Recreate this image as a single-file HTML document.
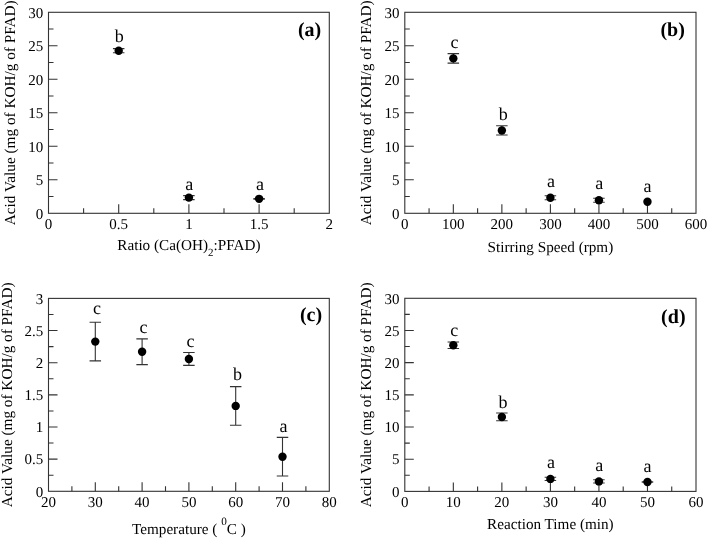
<!DOCTYPE html>
<html><head><meta charset="utf-8"><style>
html,body{margin:0;padding:0;background:#fff;}
body{width:708px;height:539px;overflow:hidden;}
svg{display:block;font-family:"Liberation Serif", serif;text-rendering:geometricPrecision;will-change:transform;}
</style></head><body>
<svg width="708" height="539" viewBox="0 0 708 539" fill="#000">
<rect x="48.5" y="12.3" width="280.8" height="201" fill="none" stroke="#333" stroke-width="1.1"/>
<path d="M83.6 213.3V208.3M118.7 213.3V204.3M153.8 213.3V208.3M188.9 213.3V204.3M224 213.3V208.3M259.1 213.3V204.3M294.2 213.3V208.3M48.5 196.55H53.5M48.5 179.8H57.5M48.5 163.05H53.5M48.5 146.3H57.5M48.5 129.55H53.5M48.5 112.8H57.5M48.5 96.05H53.5M48.5 79.3H57.5M48.5 62.55H53.5M48.5 45.8H57.5M48.5 29.05H53.5" stroke="#333" stroke-width="1.1" fill="none"/>
<text x="48.5" y="228.9" text-anchor="middle" font-size="15">0</text>
<text x="118.7" y="228.9" text-anchor="middle" font-size="15">0.5</text>
<text x="188.9" y="228.9" text-anchor="middle" font-size="15">1</text>
<text x="259.1" y="228.9" text-anchor="middle" font-size="15">1.5</text>
<text x="329.3" y="228.9" text-anchor="middle" font-size="15">2</text>
<text x="43.3" y="218.5" text-anchor="end" font-size="15">0</text>
<text x="43.3" y="185" text-anchor="end" font-size="15">5</text>
<text x="43.3" y="151.5" text-anchor="end" font-size="15">10</text>
<text x="43.3" y="118" text-anchor="end" font-size="15">15</text>
<text x="43.3" y="84.5" text-anchor="end" font-size="15">20</text>
<text x="43.3" y="51" text-anchor="end" font-size="15">25</text>
<text x="43.3" y="17.5" text-anchor="end" font-size="15">30</text>
<path d="M118.7 48.61V52.77M112.95 48.61H124.45M112.95 52.77H124.45" stroke="#333" stroke-width="1.1" fill="none"/>
<circle cx="118.7" cy="50.69" r="4.2" fill="#000"/>
<text x="119.3" y="41.8" text-anchor="middle" font-size="18">b</text>
<path d="M188.9 195.61V199.63M183.15 195.61H194.65M183.15 199.63H194.65" stroke="#333" stroke-width="1.1" fill="none"/>
<circle cx="188.9" cy="197.62" r="4.2" fill="#000"/>
<text x="189.2" y="189.5" text-anchor="middle" font-size="18">a</text>
<path d="M259.1 198.49V199.16M253.35 198.49H264.85M253.35 199.16H264.85" stroke="#333" stroke-width="1.1" fill="none"/>
<circle cx="259.1" cy="198.83" r="4.2" fill="#000"/>
<text x="260" y="189.5" text-anchor="middle" font-size="18">a</text>
<text x="297.9" y="35.5" font-size="20" font-weight="bold">(a)</text>
<text x="188.9" y="250.3" text-anchor="middle" font-size="15.2">Ratio (Ca(OH)<tspan font-size="11" dy="6">2</tspan><tspan dy="-6">:PFAD)</tspan></text>
<text transform="translate(14.9 112.8) rotate(-90)" x="0" y="0" text-anchor="middle" font-size="15.25">Acid Value (mg of KOH/g of PFAD)</text>
<rect x="404.8" y="12.3" width="291.2" height="201" fill="none" stroke="#333" stroke-width="1.1"/>
<path d="M429.07 213.3V208.3M453.33 213.3V204.3M477.6 213.3V208.3M501.87 213.3V204.3M526.13 213.3V208.3M550.4 213.3V204.3M574.67 213.3V208.3M598.93 213.3V204.3M623.2 213.3V208.3M647.47 213.3V204.3M671.73 213.3V208.3M404.8 196.55H409.8M404.8 179.8H413.8M404.8 163.05H409.8M404.8 146.3H413.8M404.8 129.55H409.8M404.8 112.8H413.8M404.8 96.05H409.8M404.8 79.3H413.8M404.8 62.55H409.8M404.8 45.8H413.8M404.8 29.05H409.8" stroke="#333" stroke-width="1.1" fill="none"/>
<text x="404.8" y="228.9" text-anchor="middle" font-size="15">0</text>
<text x="453.33" y="228.9" text-anchor="middle" font-size="15">100</text>
<text x="501.87" y="228.9" text-anchor="middle" font-size="15">200</text>
<text x="550.4" y="228.9" text-anchor="middle" font-size="15">300</text>
<text x="598.93" y="228.9" text-anchor="middle" font-size="15">400</text>
<text x="647.47" y="228.9" text-anchor="middle" font-size="15">500</text>
<text x="696" y="228.9" text-anchor="middle" font-size="15">600</text>
<text x="399.6" y="218.5" text-anchor="end" font-size="15">0</text>
<text x="399.6" y="185" text-anchor="end" font-size="15">5</text>
<text x="399.6" y="151.5" text-anchor="end" font-size="15">10</text>
<text x="399.6" y="118" text-anchor="end" font-size="15">15</text>
<text x="399.6" y="84.5" text-anchor="end" font-size="15">20</text>
<text x="399.6" y="51" text-anchor="end" font-size="15">25</text>
<text x="399.6" y="17.5" text-anchor="end" font-size="15">30</text>
<path d="M453.33 53.64V63.15M447.58 53.64H459.08M447.58 63.15H459.08" stroke="#333" stroke-width="1.1" fill="none"/>
<circle cx="453.33" cy="58.4" r="4.2" fill="#000"/>
<text x="454.5" y="47.9" text-anchor="middle" font-size="18">c</text>
<path d="M501.87 125.8V135.04M496.12 125.8H507.62M496.12 135.04H507.62" stroke="#333" stroke-width="1.1" fill="none"/>
<circle cx="501.87" cy="130.42" r="4.2" fill="#000"/>
<text x="503.3" y="119.5" text-anchor="middle" font-size="18">b</text>
<path d="M550.4 195.68V199.7M544.65 195.68H556.15M544.65 199.7H556.15" stroke="#333" stroke-width="1.1" fill="none"/>
<circle cx="550.4" cy="197.69" r="4.2" fill="#000"/>
<text x="550.9" y="187.3" text-anchor="middle" font-size="18">a</text>
<path d="M598.93 198.29V202.31M593.18 198.29H604.68M593.18 202.31H604.68" stroke="#333" stroke-width="1.1" fill="none"/>
<circle cx="598.93" cy="200.3" r="4.2" fill="#000"/>
<text x="599.2" y="189" text-anchor="middle" font-size="18">a</text>
<circle cx="647.47" cy="201.78" r="4.2" fill="#000"/>
<text x="647.5" y="191.7" text-anchor="middle" font-size="18">a</text>
<text x="660.4" y="35.5" font-size="20" font-weight="bold">(b)</text>
<text x="550.4" y="252.3" text-anchor="middle" font-size="15.2">Stirring Speed (rpm)</text>
<text transform="translate(370.8 112.8) rotate(-90)" x="0" y="0" text-anchor="middle" font-size="15.25">Acid Value (mg of KOH/g of PFAD)</text>
<rect x="48.5" y="298.4" width="280.8" height="192.9" fill="none" stroke="#333" stroke-width="1.1"/>
<path d="M71.9 491.3V486.3M95.3 491.3V482.3M118.7 491.3V486.3M142.1 491.3V482.3M165.5 491.3V486.3M188.9 491.3V482.3M212.3 491.3V486.3M235.7 491.3V482.3M259.1 491.3V486.3M282.5 491.3V482.3M305.9 491.3V486.3M48.5 475.23H53.5M48.5 459.15H57.5M48.5 443.07H53.5M48.5 427H57.5M48.5 410.93H53.5M48.5 394.85H57.5M48.5 378.77H53.5M48.5 362.7H57.5M48.5 346.62H53.5M48.5 330.55H57.5M48.5 314.48H53.5" stroke="#333" stroke-width="1.1" fill="none"/>
<text x="48.5" y="506.9" text-anchor="middle" font-size="15">20</text>
<text x="95.3" y="506.9" text-anchor="middle" font-size="15">30</text>
<text x="142.1" y="506.9" text-anchor="middle" font-size="15">40</text>
<text x="188.9" y="506.9" text-anchor="middle" font-size="15">50</text>
<text x="235.7" y="506.9" text-anchor="middle" font-size="15">60</text>
<text x="282.5" y="506.9" text-anchor="middle" font-size="15">70</text>
<text x="329.3" y="506.9" text-anchor="middle" font-size="15">80</text>
<text x="43.3" y="496.5" text-anchor="end" font-size="15">0</text>
<text x="43.3" y="464.35" text-anchor="end" font-size="15">0.5</text>
<text x="43.3" y="432.2" text-anchor="end" font-size="15">1</text>
<text x="43.3" y="400.05" text-anchor="end" font-size="15">1.5</text>
<text x="43.3" y="367.9" text-anchor="end" font-size="15">2</text>
<text x="43.3" y="335.75" text-anchor="end" font-size="15">2.5</text>
<text x="43.3" y="303.6" text-anchor="end" font-size="15">3</text>
<path d="M95.3 322.32V360.9M89.55 322.32H101.05M89.55 360.9H101.05" stroke="#333" stroke-width="1.1" fill="none"/>
<circle cx="95.3" cy="341.61" r="4.2" fill="#000"/>
<text x="96.9" y="314.3" text-anchor="middle" font-size="18">c</text>
<path d="M142.1 338.91V364.63M136.35 338.91H147.85M136.35 364.63H147.85" stroke="#333" stroke-width="1.1" fill="none"/>
<circle cx="142.1" cy="351.77" r="4.2" fill="#000"/>
<text x="143.5" y="333" text-anchor="middle" font-size="18">c</text>
<path d="M188.9 352.54V365.4M183.15 352.54H194.65M183.15 365.4H194.65" stroke="#333" stroke-width="1.1" fill="none"/>
<circle cx="188.9" cy="358.97" r="4.2" fill="#000"/>
<text x="190.5" y="346.5" text-anchor="middle" font-size="18">c</text>
<path d="M235.7 386.62V425.2M229.95 386.62H241.45M229.95 425.2H241.45" stroke="#333" stroke-width="1.1" fill="none"/>
<circle cx="235.7" cy="405.91" r="4.2" fill="#000"/>
<text x="237.6" y="379.6" text-anchor="middle" font-size="18">b</text>
<path d="M282.5 437.42V476M276.75 437.42H288.25M276.75 476H288.25" stroke="#333" stroke-width="1.1" fill="none"/>
<circle cx="282.5" cy="456.71" r="4.2" fill="#000"/>
<text x="283.5" y="431.7" text-anchor="middle" font-size="18">a</text>
<text x="299.9" y="321" font-size="20" font-weight="bold">(c)</text>
<text x="188.9" y="534" text-anchor="middle" font-size="15.2">Temperature ( <tspan font-size="11.2" dy="-8.8">0</tspan><tspan dy="8.8">C )</tspan></text>
<text transform="translate(11.9 394.85) rotate(-90)" x="0" y="0" text-anchor="middle" font-size="15.25">Acid Value (mg of KOH/g of PFAD)</text>
<rect x="404.8" y="298.3" width="291.2" height="193.1" fill="none" stroke="#333" stroke-width="1.1"/>
<path d="M429.07 491.4V486.4M453.33 491.4V482.4M477.6 491.4V486.4M501.87 491.4V482.4M526.13 491.4V486.4M550.4 491.4V482.4M574.67 491.4V486.4M598.93 491.4V482.4M623.2 491.4V486.4M647.47 491.4V482.4M671.73 491.4V486.4M404.8 475.31H409.8M404.8 459.22H413.8M404.8 443.12H409.8M404.8 427.03H413.8M404.8 410.94H409.8M404.8 394.85H413.8M404.8 378.76H409.8M404.8 362.67H413.8M404.8 346.57H409.8M404.8 330.48H413.8M404.8 314.39H409.8" stroke="#333" stroke-width="1.1" fill="none"/>
<text x="404.8" y="507" text-anchor="middle" font-size="15">0</text>
<text x="453.33" y="507" text-anchor="middle" font-size="15">10</text>
<text x="501.87" y="507" text-anchor="middle" font-size="15">20</text>
<text x="550.4" y="507" text-anchor="middle" font-size="15">30</text>
<text x="598.93" y="507" text-anchor="middle" font-size="15">40</text>
<text x="647.47" y="507" text-anchor="middle" font-size="15">50</text>
<text x="696" y="507" text-anchor="middle" font-size="15">60</text>
<text x="399.6" y="496.6" text-anchor="end" font-size="15">0</text>
<text x="399.6" y="464.42" text-anchor="end" font-size="15">5</text>
<text x="399.6" y="432.23" text-anchor="end" font-size="15">10</text>
<text x="399.6" y="400.05" text-anchor="end" font-size="15">15</text>
<text x="399.6" y="367.87" text-anchor="end" font-size="15">20</text>
<text x="399.6" y="335.68" text-anchor="end" font-size="15">25</text>
<text x="399.6" y="303.5" text-anchor="end" font-size="15">30</text>
<path d="M453.33 342.07V348.51M447.58 342.07H459.08M447.58 348.51H459.08" stroke="#333" stroke-width="1.1" fill="none"/>
<circle cx="453.33" cy="345.29" r="4.2" fill="#000"/>
<text x="454.3" y="336.3" text-anchor="middle" font-size="18">c</text>
<path d="M501.87 413.07V420.79M496.12 413.07H507.62M496.12 420.79H507.62" stroke="#333" stroke-width="1.1" fill="none"/>
<circle cx="501.87" cy="416.93" r="4.2" fill="#000"/>
<text x="503" y="408.2" text-anchor="middle" font-size="18">b</text>
<path d="M550.4 477.3V480.52M544.65 477.3H556.15M544.65 480.52H556.15" stroke="#333" stroke-width="1.1" fill="none"/>
<circle cx="550.4" cy="478.91" r="4.2" fill="#000"/>
<text x="550.9" y="468.4" text-anchor="middle" font-size="18">a</text>
<path d="M598.93 479.81V483.03M593.18 479.81H604.68M593.18 483.03H604.68" stroke="#333" stroke-width="1.1" fill="none"/>
<circle cx="598.93" cy="481.42" r="4.2" fill="#000"/>
<text x="599.2" y="471.3" text-anchor="middle" font-size="18">a</text>
<path d="M647.47 481.87V482.13M641.72 481.87H653.22M641.72 482.13H653.22" stroke="#333" stroke-width="1.1" fill="none"/>
<circle cx="647.47" cy="482" r="4.2" fill="#000"/>
<text x="647.5" y="472.3" text-anchor="middle" font-size="18">a</text>
<text x="661.1" y="322.8" font-size="20" font-weight="bold">(d)</text>
<text x="550.4" y="528.6" text-anchor="middle" font-size="15.2">Reaction Time (min)</text>
<text transform="translate(370.8 394.85) rotate(-90)" x="0" y="0" text-anchor="middle" font-size="15.25">Acid Value (mg of KOH/g of PFAD)</text>
</svg>
</body></html>
